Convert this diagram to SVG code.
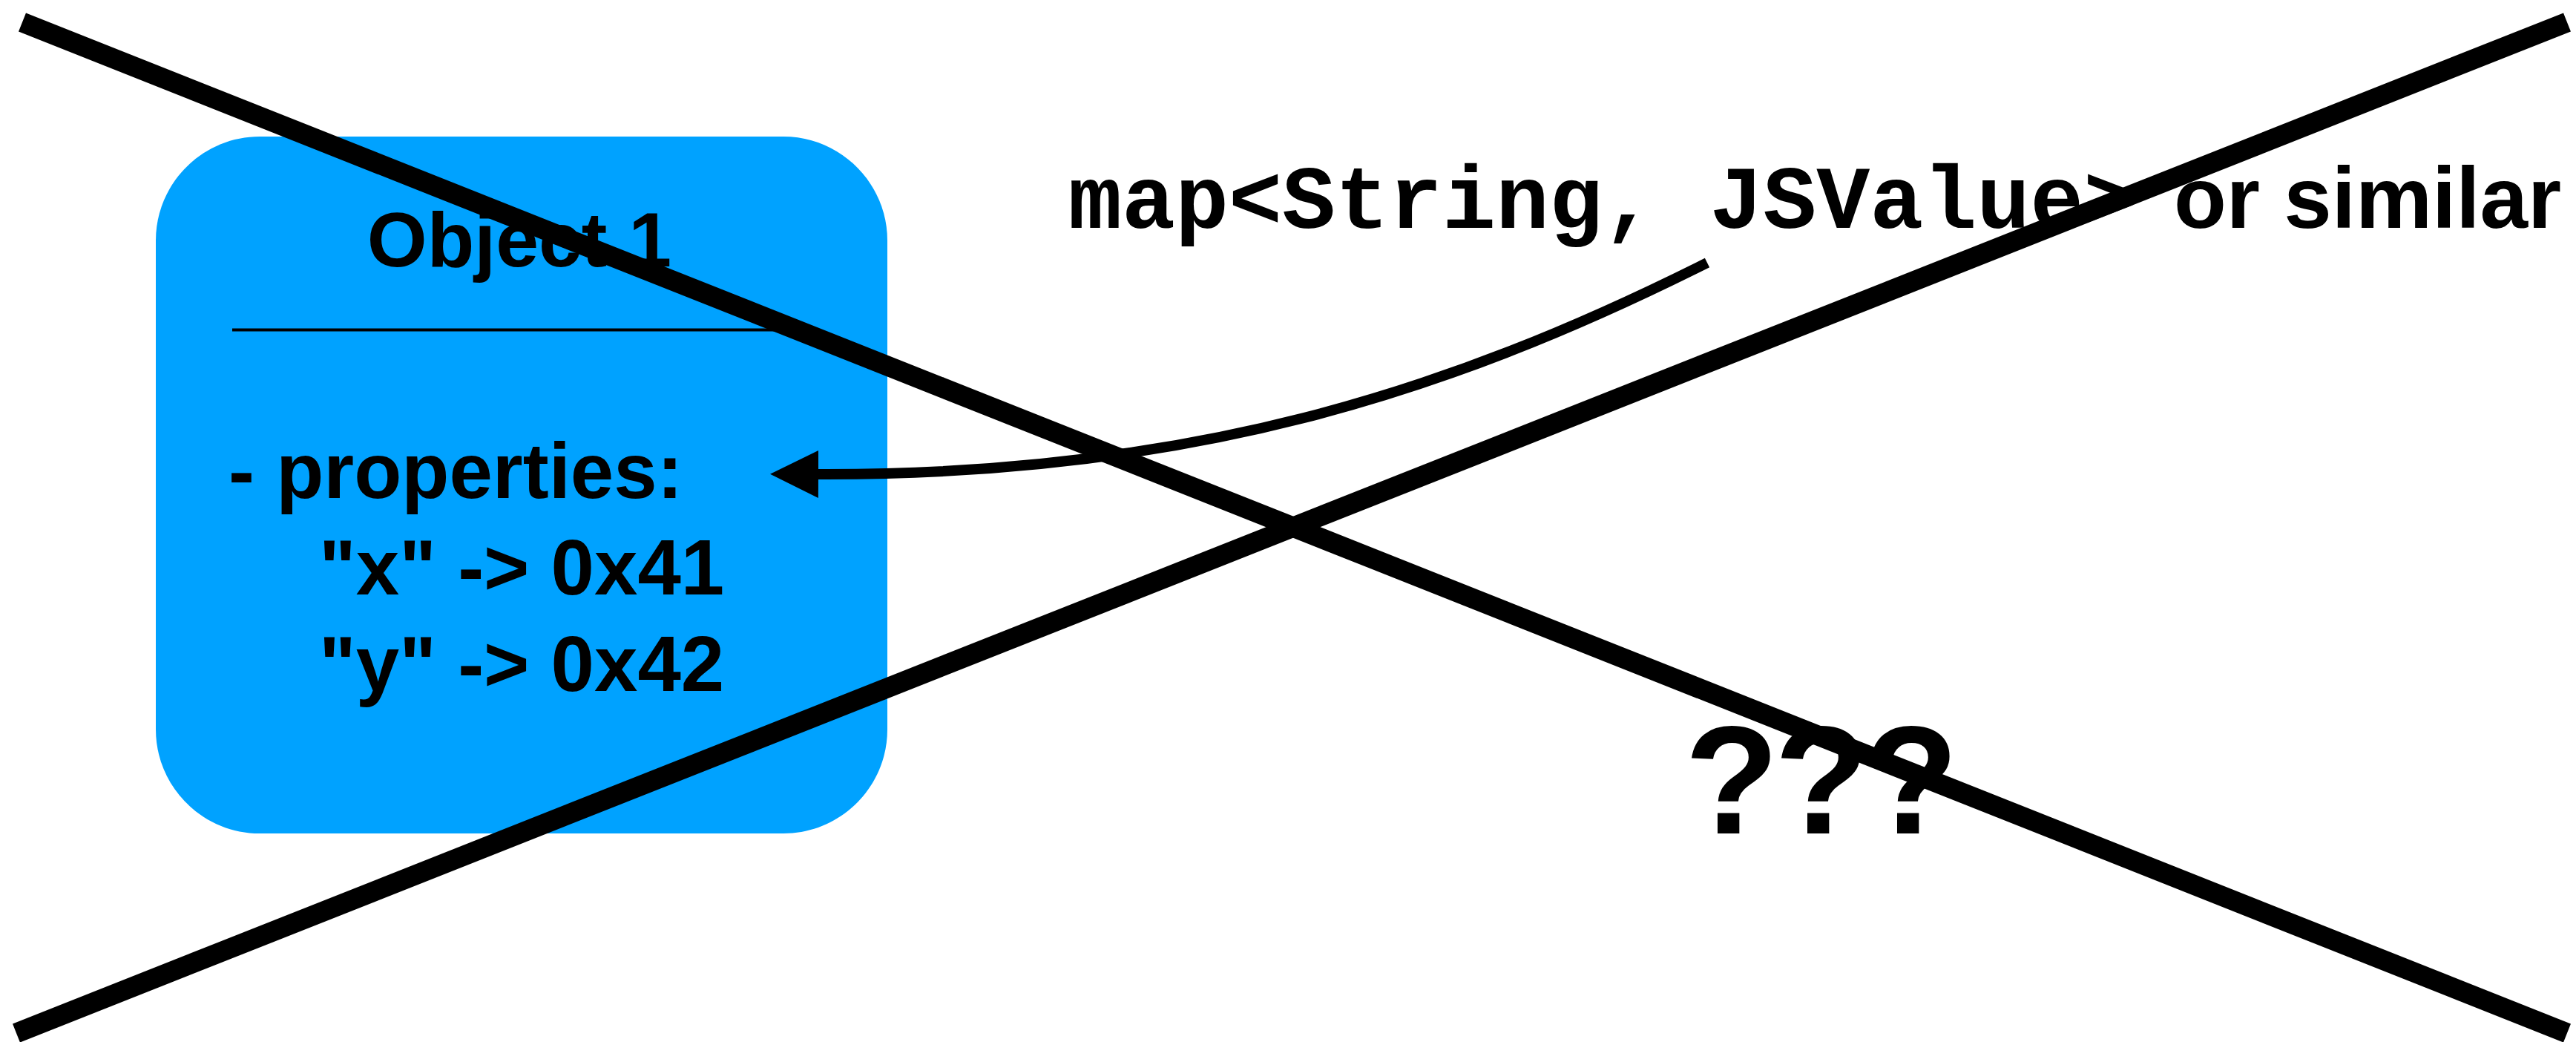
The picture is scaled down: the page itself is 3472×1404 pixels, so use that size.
<svg xmlns="http://www.w3.org/2000/svg" width="3472" height="1404" viewBox="0 0 3472 1404">
<style>
.sans{font-family:"Liberation Sans",Arial,Helvetica,sans-serif;font-weight:bold;fill:#000}
.mono{font-family:"Liberation Mono","Courier New",monospace;font-weight:bold;fill:#000}
.cross{stroke:#000;stroke-width:27;fill:none;stroke-linecap:butt}
</style>
<defs>
<marker id="arrow" markerUnits="userSpaceOnUse" viewBox="0 0 65 64" markerWidth="65" markerHeight="64" refX="1" refY="32" orient="auto">
<path d="M0,0 L65,32 L0,64 Z" fill="#000"/>
</marker>
</defs>
<rect x="0" y="0" width="3472" height="1404" fill="#fff"/>
<g id="object1">
<path d="M210,324 C210,247 273,184 350,184 L1056,184 C1133,184 1196,247 1196,324 L1196,983 C1196,1060 1133,1123 1056,1123 L350,1123 C273,1123 210,1060 210,983 Z" fill="#00A2FF"/>
<text class="sans" x="700" y="359" font-size="104" text-anchor="middle">Object 1</text>
<line x1="313" y1="444.5" x2="1093" y2="444.5" stroke="#000" stroke-width="4"/>
<text class="sans" x="308" y="671" font-size="105">- properties:</text>
<text class="sans" x="430" y="801" font-size="105">"x" -&gt; 0x41</text>
<text class="sans" x="430" y="931" font-size="105">"y" -&gt; 0x42</text>
</g>
<g id="map-label">
<text class="mono" x="1440" y="307" font-size="120">map&lt;String, JSValue&gt;</text>
<text class="sans" x="2930" y="307" font-size="116">or similar</text>
</g>
<g id="unknown">
<text class="sans" x="2452" y="1123" font-size="208" letter-spacing="-6" text-anchor="middle">???</text>
</g>
<g id="connectors">
<path d="M2301,354 C1950,530 1600,641 1102,639" fill="none" stroke="#000" stroke-width="14" marker-end="url(#arrow)"/>
</g>
<g id="cross-out">
<line class="cross" x1="30" y1="30" x2="3460" y2="1392"/>
<line class="cross" x1="3460" y1="30" x2="22" y2="1392"/>
</g>
</svg>
